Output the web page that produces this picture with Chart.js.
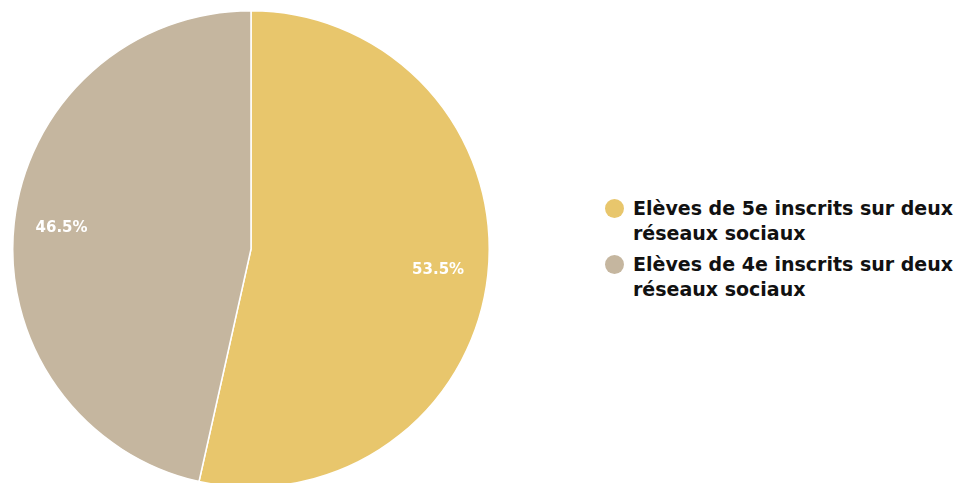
<!DOCTYPE html>
<html>
<head>
<meta charset="utf-8">
<script src="https://cdn.jsdelivr.net/npm/chart.js@4/dist/chart.umd.min.js"></script>
<style>
  html, body { margin: 0; padding: 0; background: #fff; overflow: hidden; }
  body { width: 955px; height: 483px; position: relative; font-family: "DejaVu Sans", sans-serif; }
  #pieBox { position: absolute; left: 12px; top: 10px; width: 478px; height: 478px; }
  #legend { position: absolute; left: 605px; top: 196px; }
  .item { display: flex; align-items: flex-start; margin-bottom: 6px; }
  .dot { width: 19px; height: 19px; border-radius: 50%; margin-right: 9px; margin-top: 3px; flex: none; }
  .txt { font-weight: bold; font-size: 19px; line-height: 25px; color: #111; width: 330px; }
</style>
</head>
<body>
<div id="pieBox"><canvas id="pieChart"></canvas></div>
<div id="legend"></div>
<script>
// Data
const labels = [
    "Elèves de 5e inscrits sur deux réseaux sociaux",
    "Elèves de 4e inscrits sur deux réseaux sociaux"
];
const values = [53.5, 46.5];
const colors = ["#E8C66C", "#C5B69F"];

// Percent labels drawn inside the slices
const sliceLabels = {
    id: "sliceLabels",
    afterDatasetsDraw(chart) {
        const ctx = chart.ctx;
        const meta = chart.getDatasetMeta(0);
        ctx.save();
        ctx.fillStyle = "#fff";
        ctx.font = "bold 15px 'DejaVu Sans', sans-serif";
        ctx.textAlign = "center";
        ctx.textBaseline = "middle";
        meta.data.forEach((arc, i) => {
            const mid = (arc.startAngle + arc.endAngle) / 2;
            const d = arc.outerRadius * (i === 0 ? 0.79 : 0.80);
            ctx.fillText(values[i].toFixed(1) + "%", arc.x + Math.cos(mid) * d, arc.y + Math.sin(mid) * d);
        });
        ctx.restore();
    }
};

const ctx = document.getElementById("pieChart").getContext("2d");
new Chart(ctx, {
    type: "pie",
    data: {
        labels: labels,
        datasets: [{
            data: values,
            backgroundColor: colors,
            borderColor: "#fff",
            borderWidth: 1.5
        }]
    },
    options: {
        responsive: true,
        maintainAspectRatio: false,
        animation: false,
        plugins: {
            legend: { display: false },
            tooltip: { enabled: false }
        }
    },
    plugins: [sliceLabels]
});

// HTML legend so the long names wrap onto two lines
const legend = document.getElementById("legend");
labels.forEach((name, i) => {
    const row = document.createElement("div");
    row.className = "item";
    row.innerHTML = `<span class="dot" style="background:${colors[i]}"></span><span class="txt">${name}</span>`;
    legend.appendChild(row);
});
</script>
</body>
</html>
